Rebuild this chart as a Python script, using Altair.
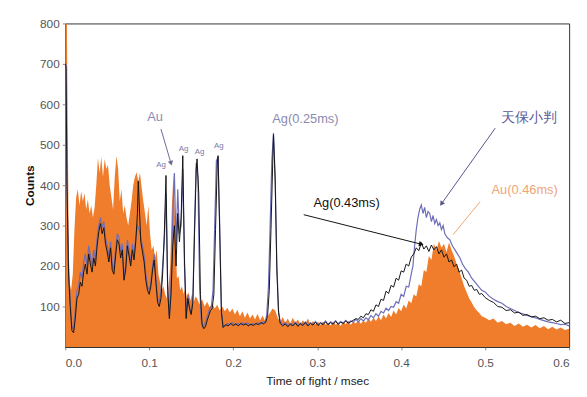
import altair as alt
import pandas as pd

# ---------------- data ----------------
x_ticks = [0.0, 0.1, 0.2, 0.3, 0.4, 0.5, 0.6]
y_ticks = [100, 200, 300, 400, 500, 600, 700, 800]

# orange filled spectrum (Au reference)
orange_t = [0.000, 0.002, 0.003, 0.004, 0.005, 0.007, 0.009, 0.011, 0.013, 0.015, 0.017, 0.019,
            0.021, 0.023, 0.025, 0.027, 0.029, 0.031, 0.033, 0.035, 0.037, 0.039, 0.041, 0.043,
            0.045, 0.047, 0.049, 0.051, 0.053, 0.055, 0.057, 0.059, 0.061, 0.063, 0.065, 0.067,
            0.069, 0.071, 0.073, 0.075, 0.077, 0.079, 0.081, 0.083, 0.085, 0.087, 0.089, 0.091,
            0.093, 0.095, 0.097, 0.099, 0.101, 0.103, 0.105, 0.107, 0.109, 0.111, 0.113, 0.115,
            0.117, 0.119, 0.121, 0.123, 0.125, 0.127, 0.129, 0.131, 0.133, 0.135, 0.137, 0.139,
            0.141, 0.143, 0.145, 0.147, 0.149, 0.151, 0.153, 0.155, 0.157, 0.160, 0.163, 0.166,
            0.169, 0.172, 0.175, 0.178, 0.181, 0.184, 0.187, 0.190, 0.193, 0.196, 0.199, 0.202,
            0.205, 0.208, 0.211, 0.214, 0.217, 0.220, 0.223, 0.226, 0.229, 0.232, 0.235, 0.238,
            0.241, 0.244, 0.247, 0.250, 0.253, 0.256, 0.259, 0.262, 0.265, 0.268, 0.271, 0.274,
            0.277, 0.280, 0.283, 0.286, 0.289, 0.292, 0.295, 0.298, 0.301, 0.304, 0.307, 0.310,
            0.313, 0.316, 0.319, 0.322, 0.325, 0.328, 0.331, 0.334, 0.337, 0.340, 0.343, 0.346,
            0.349, 0.352, 0.355, 0.358, 0.361, 0.364, 0.367, 0.370, 0.373, 0.376, 0.379, 0.382,
            0.385, 0.388, 0.391, 0.394, 0.397, 0.400, 0.403, 0.406, 0.409, 0.412, 0.415, 0.418,
            0.421, 0.424, 0.427, 0.430, 0.433, 0.436, 0.439, 0.442, 0.445, 0.448, 0.451, 0.454,
            0.457, 0.460, 0.463, 0.466, 0.469, 0.472, 0.475, 0.478, 0.481, 0.484, 0.487, 0.490,
            0.493, 0.496, 0.500, 0.505, 0.510, 0.515, 0.520, 0.525, 0.530, 0.535, 0.540, 0.545,
            0.550, 0.555, 0.560, 0.565, 0.570, 0.575, 0.580, 0.585, 0.590, 0.595, 0.600]
orange_c = [800, 800, 560, 300, 160, 140, 180, 290, 370, 390, 350, 385,
            360, 380, 340, 365, 330, 350, 320, 345, 400, 468, 430, 470,
            420, 465, 440, 450, 400, 370, 340, 420, 473, 440, 360, 390,
            330, 350, 320, 300, 330, 360, 400, 420, 432, 410, 430, 395,
            360, 330, 300, 350, 280, 240, 250, 220, 240, 180, 160, 140,
            150, 130, 120, 150, 200, 350, 430, 300, 170, 175, 140, 150,
            130, 145, 120, 135, 115, 130, 110, 125, 120, 105, 118, 100,
            112, 98, 108, 95, 104, 90, 100, 88, 97, 85, 95, 80,
            92, 76, 88, 72, 85, 70, 80, 68, 82, 66, 78, 64,
            75, 85, 95, 90, 72, 62, 74, 60, 70, 58, 72, 60,
            68, 56, 66, 58, 70, 55, 64, 56, 62, 54, 63, 55,
            60, 53, 62, 55, 60, 52, 62, 56, 64, 55, 62, 58,
            66, 57, 65, 60, 70, 62, 72, 64, 75, 66, 80, 70,
            84, 74, 90, 80, 96, 88, 105, 95, 115, 108, 130, 125,
            155, 150, 190, 185, 225, 215, 255, 240, 262, 245, 255, 235,
            258, 240, 225, 205, 190, 170, 150, 135, 120, 110, 98, 90,
            84, 76, 72, 66, 70, 60, 64, 56, 60, 52, 58, 50,
            55, 48, 54, 46, 52, 44, 50, 43, 48, 42, 45]

# blue line (天保小判)
blue_t = [0.000, 0.001, 0.002, 0.004, 0.006, 0.008, 0.010, 0.012, 0.014, 0.016, 0.018, 0.020,
          0.022, 0.024, 0.026, 0.028, 0.030, 0.032, 0.034, 0.036, 0.038, 0.040, 0.042, 0.044,
          0.046, 0.048, 0.050, 0.052, 0.054, 0.056, 0.058, 0.060, 0.062, 0.064, 0.066, 0.068,
          0.070, 0.072, 0.074, 0.076, 0.078, 0.080, 0.082, 0.084, 0.086, 0.088, 0.090, 0.092,
          0.094, 0.096, 0.098, 0.100, 0.102, 0.104, 0.106, 0.108, 0.110, 0.112, 0.114, 0.116,
          0.118, 0.120, 0.122, 0.124, 0.126, 0.128, 0.130, 0.132, 0.134, 0.136, 0.138, 0.140,
          0.142, 0.144, 0.146, 0.148, 0.150, 0.152, 0.154, 0.156, 0.158, 0.160, 0.162, 0.164,
          0.166, 0.168, 0.170, 0.172, 0.174, 0.176, 0.178, 0.180, 0.182, 0.184, 0.186, 0.188,
          0.190, 0.193, 0.196, 0.199, 0.202, 0.205, 0.208, 0.211, 0.214, 0.217, 0.220, 0.223,
          0.226, 0.229, 0.232, 0.235, 0.238, 0.240, 0.242, 0.244, 0.246, 0.248, 0.250, 0.252,
          0.254, 0.256, 0.259, 0.262, 0.265, 0.268, 0.271, 0.274, 0.277, 0.280, 0.283, 0.286,
          0.289, 0.292, 0.295, 0.298, 0.301, 0.304, 0.307, 0.310, 0.313, 0.316, 0.319, 0.322,
          0.325, 0.328, 0.331, 0.334, 0.337, 0.340, 0.343, 0.346, 0.349, 0.352, 0.355, 0.358,
          0.361, 0.364, 0.367, 0.370, 0.373, 0.376, 0.379, 0.382, 0.385, 0.388, 0.391, 0.394,
          0.397, 0.400, 0.403, 0.406, 0.409, 0.412, 0.414, 0.416, 0.418, 0.420, 0.422, 0.424,
          0.426, 0.428, 0.430, 0.432, 0.434, 0.436, 0.438, 0.440, 0.442, 0.444, 0.446, 0.448,
          0.450, 0.452, 0.455, 0.458, 0.461, 0.464, 0.467, 0.470, 0.473, 0.476, 0.480, 0.484,
          0.488, 0.492, 0.496, 0.500, 0.505, 0.510, 0.515, 0.520, 0.525, 0.530, 0.535, 0.540,
          0.545, 0.550, 0.555, 0.560, 0.565, 0.570, 0.575, 0.580, 0.585, 0.590, 0.595, 0.600]
blue_c = [575, 700, 400, 200, 110, 50, 45, 90, 140, 150, 185, 170,
          210, 230, 200, 250, 225, 200, 240, 215, 270, 300, 320, 295,
          310, 270, 250, 225, 260, 205, 190, 240, 280, 270, 235, 255,
          175, 200, 265, 240, 210, 255, 230, 270, 300, 290, 270, 250,
          225, 180, 150, 140, 160, 200, 230, 170, 120, 110, 140, 200,
          260, 380, 150, 75, 150, 320, 430, 250, 390, 280, 300, 440,
          200, 75, 130, 100, 85, 120, 300, 455, 420, 150, 65, 50,
          55, 70, 80, 95, 100, 140, 300, 460, 470, 300, 90, 50,
          52, 58, 55, 60, 54, 58, 55, 60, 56, 59, 54, 58,
          55, 60, 56, 62, 60, 80, 150, 300, 460, 529, 420, 200,
          90, 62, 55, 60, 52, 58, 54, 61, 53, 59, 55, 62,
          54, 60, 56, 63, 55, 60, 57, 64, 56, 62, 58, 65,
          57, 63, 59, 66, 60, 64, 61, 68, 62, 70, 64, 72,
          67, 78, 72, 82, 76, 88, 84, 96, 90, 100, 98, 112,
          108, 130, 125, 150, 148, 180, 200, 250, 290, 320, 340, 351,
          330, 345, 320, 335, 330, 310, 325, 305, 315, 300, 307, 290,
          300, 280, 270, 265, 250, 240, 230, 220, 205, 195, 185, 170,
          160, 150, 140, 136, 125, 118, 112, 108, 100, 95, 90, 85,
          82, 78, 75, 72, 68, 65, 62, 60, 58, 55, 56, 52]

# black line (Ag)
black_t = [0.000, 0.001, 0.002, 0.004, 0.006, 0.008, 0.010, 0.012, 0.014, 0.016, 0.018, 0.020,
           0.022, 0.024, 0.026, 0.028, 0.030, 0.032, 0.034, 0.036, 0.038, 0.040, 0.042, 0.044,
           0.046, 0.048, 0.050, 0.052, 0.054, 0.056, 0.058, 0.060, 0.062, 0.064, 0.066, 0.068,
           0.070, 0.072, 0.074, 0.076, 0.078, 0.080, 0.082, 0.084, 0.086, 0.087, 0.088, 0.090,
           0.092, 0.094, 0.096, 0.098, 0.100, 0.102, 0.104, 0.106, 0.108, 0.110, 0.112, 0.114,
           0.116, 0.118, 0.120, 0.122, 0.124, 0.126, 0.128, 0.130, 0.132, 0.134, 0.136, 0.138,
           0.140, 0.142, 0.144, 0.146, 0.148, 0.150, 0.152, 0.154, 0.156, 0.157, 0.159, 0.161,
           0.163, 0.165, 0.167, 0.169, 0.171, 0.173, 0.175, 0.177, 0.179, 0.181, 0.182, 0.184,
           0.186, 0.188, 0.191, 0.194, 0.197, 0.200, 0.203, 0.206, 0.209, 0.212, 0.215, 0.218,
           0.221, 0.224, 0.227, 0.230, 0.233, 0.236, 0.239, 0.241, 0.243, 0.245, 0.247, 0.248,
           0.250, 0.252, 0.254, 0.256, 0.259, 0.262, 0.265, 0.268, 0.271, 0.274, 0.277, 0.280,
           0.283, 0.286, 0.289, 0.292, 0.295, 0.298, 0.301, 0.304, 0.307, 0.310, 0.313, 0.316,
           0.319, 0.322, 0.325, 0.328, 0.331, 0.334, 0.337, 0.340, 0.343, 0.346, 0.349, 0.352,
           0.355, 0.358, 0.361, 0.364, 0.367, 0.370, 0.373, 0.376, 0.379, 0.382, 0.385, 0.388,
           0.391, 0.394, 0.397, 0.400, 0.403, 0.406, 0.409, 0.412, 0.415, 0.418, 0.421, 0.424,
           0.427, 0.430, 0.433, 0.436, 0.439, 0.442, 0.445, 0.448, 0.451, 0.454, 0.457, 0.460,
           0.463, 0.466, 0.469, 0.472, 0.475, 0.478, 0.481, 0.484, 0.487, 0.490, 0.493, 0.496,
           0.500, 0.505, 0.510, 0.515, 0.520, 0.525, 0.530, 0.535, 0.540, 0.545, 0.550, 0.555,
           0.560, 0.565, 0.570, 0.575, 0.580, 0.585, 0.590, 0.595, 0.600]
black_c = [700, 690, 420, 180, 100, 40, 35, 70, 120, 130, 160, 150,
           185, 205, 180, 230, 205, 185, 220, 200, 250, 285, 305, 280,
           295, 255, 235, 210, 245, 190, 180, 225, 265, 255, 220, 240,
           165, 190, 250, 225, 200, 240, 215, 260, 330, 410, 360, 260,
           235, 210, 165, 140, 130, 150, 190, 215, 160, 110, 100, 120,
           180, 280, 424, 140, 70, 130, 250, 300, 200, 330, 260, 320,
           473, 220, 70, 120, 95, 80, 110, 280, 440, 465, 380, 130,
           55, 45, 50, 65, 78, 90, 95, 130, 290, 450, 473, 280,
           85, 48, 55, 52, 58, 53, 57, 52, 58, 54, 57, 52,
           56, 53, 58, 55, 60, 57, 62, 78, 140, 290, 450, 525,
           410, 190, 85, 58, 52, 57, 50, 56, 52, 59, 51, 57,
           53, 60, 52, 58, 54, 61, 53, 59, 55, 62, 55, 60,
           56, 63, 56, 61, 58, 64, 59, 62, 66, 70, 68, 76,
           72, 82, 80, 92, 88, 104, 100, 118, 115, 138, 132, 152,
           148, 170, 165, 188, 185, 205, 200, 222, 230, 245, 238, 258,
           242, 250, 236, 252, 240, 248, 230, 240, 222, 230, 210, 215,
           198, 205, 185, 190, 170, 165, 150, 152, 140, 142, 130, 132,
           122, 115, 110, 100, 98, 90, 92, 84, 86, 78, 80, 74,
           76, 70, 72, 66, 68, 62, 66, 58, 60]

# annotations (text, position in data units)
ann_text = ["Au", "Ag", "Ag", "Ag", "Ag", "Ag(0.25ms)", "天保小判", "Au(0.46ms)", "Ag(0.43ms)"]
ann_t = [0.107, 0.114, 0.141, 0.160, 0.183, 0.286, 0.552, 0.547, 0.335]
ann_c = [568, 449, 490, 483, 498, 563, 566, 388, 356]
ann_color = ["#8a8ab4", "#7a7aa8", "#7a7aa8", "#7a7aa8", "#7a7aa8", "#8a8ab0", "#5c5c98", "#f0a474", "#111111"]
ann_size = [13, 8, 8, 8, 8, 13, 14, 13, 13]

# arrows / pointer lines (start -> end, data units)
arr_t1 = [0.114, 0.512, 0.284, 0.494]
arr_c1 = [539, 541, 327, 359]
arr_t2 = [0.126, 0.448, 0.424, 0.462]
arr_c2 = [454, 354, 254, 278]
arr_color = ["#6a6a9a", "#55558a", "#111111", "#f0a474"]
head_t = [0.126, 0.448, 0.424]
head_c = [454, 354, 254]
head_angle = [164, 215, 104]
head_color = ["#6a6a9a", "#55558a", "#111111"]

# ---------------- chart ----------------
ORANGE = "#ef7d2c"
BLUE = "#6e6eb8"
BLACK = "#151515"
FONT = "Liberation Sans"

df_o = pd.DataFrame({"t": orange_t, "c": orange_c})
df_b = pd.DataFrame({"t": blue_t, "c": blue_c})
df_k = pd.DataFrame({"t": black_t, "c": black_c})
df_ann = pd.DataFrame({"t": ann_t, "c": ann_c, "txt": ann_text, "col": ann_color, "sz": ann_size})
df_arr = pd.DataFrame({"t": arr_t1, "c": arr_c1, "t2": arr_t2, "c2": arr_c2, "col": arr_color})
df_head = pd.DataFrame({"t": head_t, "c": head_c, "ang": head_angle, "col": head_color})

X = alt.X("t:Q",
          scale=alt.Scale(domain=[0, 0.6], nice=False, zero=False),
          axis=alt.Axis(values=x_ticks, format=".1f", title="Time of fight / msec",
                        titleY=34, titleBaseline="middle", titleFontWeight="normal",
                        titleFontSize=12, titleColor="#222", labelFontSize=12,
                        labelColor="#555", tickSize=3, labelPadding=8, grid=False,
                        domainColor="#333"))
Y = alt.Y("c:Q",
          scale=alt.Scale(domain=[0, 800], nice=False),
          axis=alt.Axis(values=y_ticks, title="Counts", titleX=-36, titleY=164,
                        titleAngle=-90, titleBaseline="middle", titleAlign="center",
                        titleFontWeight="bold", titleFontSize=12, titleColor="#111",
                        labelFontSize=12, labelColor="#555", tickSize=3, labelPadding=3,
                        grid=False, domainColor="#333"))

area = alt.Chart(df_o).mark_area(color=ORANGE, interpolate="linear", clip=True).encode(x=X, y=Y)
blue = alt.Chart(df_b).mark_line(color=BLUE, strokeWidth=1.2, clip=True).encode(x=X, y=Y)
black = alt.Chart(df_k).mark_line(color=BLACK, strokeWidth=1, clip=True).encode(x=X, y=Y)

rules = alt.Chart(df_arr).mark_rule(strokeWidth=1).encode(
    x=X, y=Y, x2="t2:Q", y2="c2:Q", color=alt.Color("col:N", scale=None))
heads = alt.Chart(df_head).mark_point(shape="triangle-up", filled=True, size=30, opacity=1).encode(
    x=X, y=Y, angle=alt.Angle("ang:Q", scale=None), color=alt.Color("col:N", scale=None))
texts = alt.Chart(df_ann).mark_text(font=FONT, align="center", baseline="middle").encode(
    x=X, y=Y, text="txt:N", color=alt.Color("col:N", scale=None),
    size=alt.Size("sz:Q", scale=None))

chart = alt.layer(area, blue, black, rules, heads, texts).properties(
    width=511, height=328,
    autosize=alt.AutoSizeParams(type="none"),
    padding={"left": 58, "top": 13, "right": 10, "bottom": 40},
).configure_view(stroke="#333", strokeWidth=1).configure_axis(
    labelFont=FONT, titleFont=FONT
)

chart.save("out.html", embed_options={"renderer": "svg", "actions": False})
